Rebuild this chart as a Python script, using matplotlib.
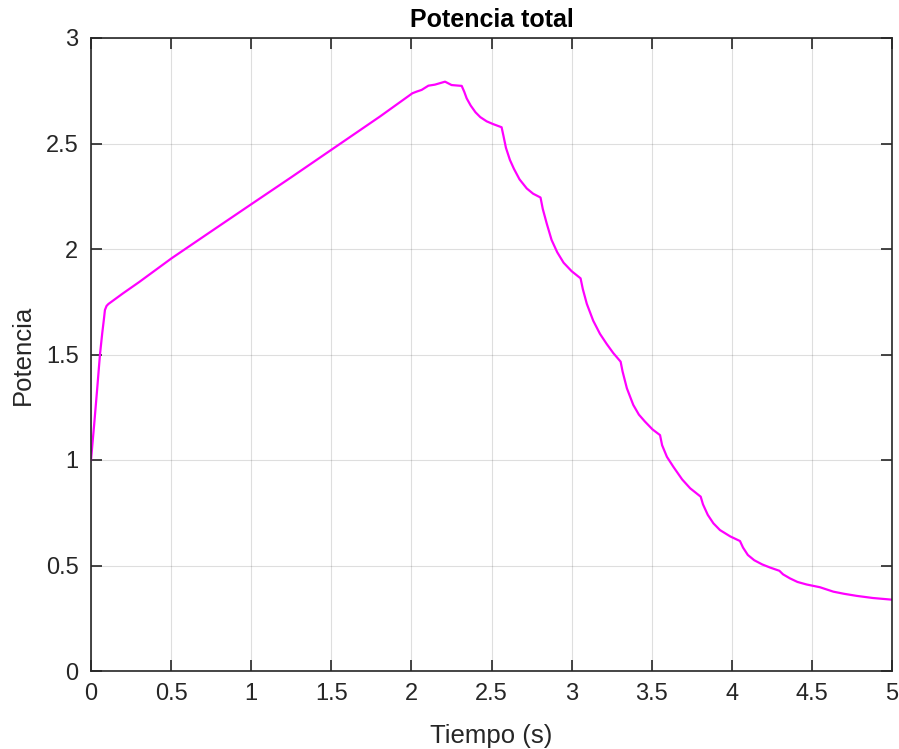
import matplotlib
matplotlib.use("Agg")
import matplotlib.pyplot as plt

tiempo = [0.0, 0.02, 0.04, 0.056, 0.07, 0.081, 0.087, 0.097, 0.108, 0.2, 0.3, 0.503, 0.753, 1.0, 1.25, 1.5, 1.804,
          2.006, 2.033, 2.064, 2.106, 2.147, 2.21, 2.251, 2.314,
          2.33, 2.345, 2.37, 2.40, 2.43, 2.47, 2.51, 2.563,
          2.575, 2.59, 2.615, 2.64, 2.675, 2.72, 2.76, 2.806,
          2.82, 2.845, 2.875, 2.91, 2.95, 3.0, 3.056,
          3.07, 3.095, 3.135, 3.177, 3.219, 3.26, 3.306,
          3.318, 3.345, 3.385, 3.42, 3.458, 3.505, 3.552,
          3.565, 3.595, 3.635, 3.69, 3.74, 3.806,
          3.82, 3.85, 3.885, 3.926, 3.99, 4.051,
          4.07, 4.1, 4.14, 4.19, 4.24, 4.297,
          4.32, 4.363, 4.41, 4.467, 4.55,
          4.634, 4.7, 4.78, 4.88, 5.0]
potencia = [1.0, 1.17, 1.35, 1.5, 1.6, 1.67, 1.711, 1.73, 1.739, 1.79, 1.843, 1.956, 2.085, 2.212, 2.34, 2.47, 2.628,
            2.738, 2.746, 2.754, 2.774, 2.779, 2.793, 2.777, 2.773,
            2.745, 2.714, 2.68, 2.648, 2.625, 2.605, 2.592, 2.577,
            2.535, 2.48, 2.422, 2.38, 2.33, 2.287, 2.262, 2.244,
            2.19, 2.12, 2.043, 1.985, 1.935, 1.895, 1.861,
            1.81, 1.74, 1.66, 1.598, 1.55, 1.507, 1.466,
            1.42, 1.34, 1.261, 1.215, 1.182, 1.145, 1.118,
            1.07, 1.015, 0.968, 0.908, 0.866, 0.826,
            0.79, 0.74, 0.7, 0.668, 0.638, 0.616,
            0.585, 0.55, 0.525, 0.505, 0.49, 0.475,
            0.458, 0.439, 0.422, 0.41, 0.397,
            0.376, 0.366, 0.356, 0.346, 0.338]

xticks = [0, 0.5, 1, 1.5, 2, 2.5, 3, 3.5, 4, 4.5, 5]
xticklabels = ['0', '0.5', '1', '1.5', '2', '2.5', '3', '3.5', '4', '4.5', '5']
yticks = [0, 0.5, 1, 1.5, 2, 2.5, 3]
yticklabels = ['0', '0.5', '1', '1.5', '2', '2.5', '3']

plt.rcParams['font.family'] = ['Liberation Sans', 'DejaVu Sans']

fig = plt.figure(figsize=(8.99, 7.49), dpi=100)
W, H = 899, 749
ax = fig.add_axes([91 / W, 1 - 671 / H, (892 - 91) / W, (671 - 38) / H])

ax.plot(tiempo, potencia, color='#FF00FF', linewidth=1.6)
ax.set_xlim(0, 5)
ax.set_ylim(0, 3)
ax.set_xticks(xticks)
ax.set_xticklabels(xticklabels)
ax.set_yticks(yticks)
ax.set_yticklabels(yticklabels)
ax.grid(True, color='#262626', alpha=0.15, linewidth=0.8)
ax.set_axisbelow(True)
ax.tick_params(direction='in', top=True, right=True, length=8, width=1.2,
               labelsize=17, colors='#262626', pad=9)
for s in ax.spines.values():
    s.set_color('#262626')
    s.set_linewidth(1.2)
ax.set_title('Potencia total', fontsize=18, fontweight='bold', color='black', pad=8)
ax.set_xlabel('Tiempo (s)', fontsize=18.5, color='#262626', labelpad=13)
ax.set_ylabel('Potencia', fontsize=18.5, color='#262626', labelpad=8)

fig.savefig('out.png', dpi=100)
